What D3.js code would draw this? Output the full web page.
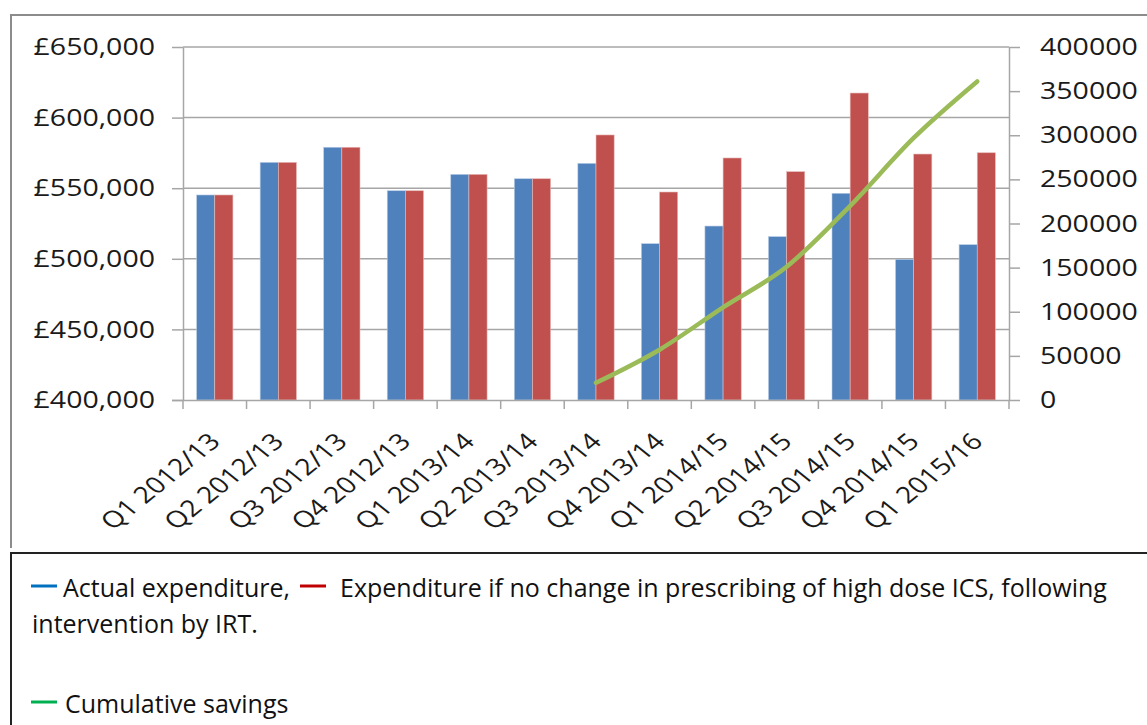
<!DOCTYPE html>
<html>
<head>
<meta charset="utf-8">
<script src="https://cdn.jsdelivr.net/npm/d3@7/dist/d3.min.js"></script>
<style>
  html, body { margin: 0; padding: 0; background: #fff; }
  svg { display: block; }
</style>
</head>
<body>
<svg id="chart" width="1147" height="725"></svg>
<script>
const categories = ["Q1 2012/13","Q2 2012/13","Q3 2012/13","Q4 2012/13","Q1 2013/14","Q2 2013/14","Q3 2013/14","Q4 2013/14","Q1 2014/15","Q2 2014/15","Q3 2014/15","Q4 2014/15","Q1 2015/16"];
const actualExpenditure = [545200, 568300, 579000, 548200, 559800, 556700, 567600, 510700, 523200, 515700, 546400, 499600, 510000];
const noChangeExpenditure = [545200, 568300, 579000, 548200, 559800, 556700, 587700, 547300, 571400, 561700, 617400, 574200, 575100];
const cumulativeSavings = [null, null, null, null, null, null, 19500, 57000, 105000, 151000, 220000, 297000, 361000];
const leftTicks = [400000, 450000, 500000, 550000, 600000, 650000];
const rightTicks = [0, 50000, 100000, 150000, 200000, 250000, 300000, 350000, 400000];
const seriesKeys = ["actual", "noChange"];

const svg = d3.select("#chart");
const FONT = "'Open Sans', 'DejaVu Sans', sans-serif";
const STRETCH = 1.24;
const plot = {left: 183, right: 1009, top: 47, bottom: 400};
const gridColor = "#a6a6a6";

// outer chart border (left + top visible)
svg.append("path")
  .attr("d", "M11,548 V15 H1147")
  .attr("fill", "none").attr("stroke", "#8c8c8c").attr("stroke-width", 2);

const x0 = d3.scaleBand().domain(categories).range([plot.left, plot.right]).paddingInner(0).paddingOuter(0);
const bw = x0.bandwidth();
const x1 = d3.scaleBand().domain(seriesKeys).range([bw * 0.75 / 3.5, bw * 2.75 / 3.5]).padding(0);
const yL = d3.scaleLinear().domain([400000, 650000]).range([plot.bottom, plot.top]);
const yR = d3.scaleLinear().domain([0, 400000]).range([plot.bottom, plot.top]);

// gridlines
svg.append("g").selectAll("line").data(leftTicks.slice(1)).join("line")
  .attr("x1", plot.left).attr("x2", plot.right)
  .attr("y1", d => yL(d)).attr("y2", d => yL(d))
  .attr("stroke", gridColor).attr("stroke-width", 1.5);

// bars
const groups = svg.append("g").selectAll("g").data(categories).join("g")
  .attr("transform", d => `translate(${x0(d)},0)`);
groups.selectAll("rect").data((d, i) => [
    {key: "actual", v: actualExpenditure[i]},
    {key: "noChange", v: noChangeExpenditure[i]}
  ]).join("rect")
  .attr("x", d => x1(d.key))
  .attr("width", x1.bandwidth())
  .attr("y", d => yL(d.v))
  .attr("height", d => yL(400000) - yL(d.v))
  .attr("fill", d => d.key === "actual" ? "#4f81bd" : "#c0504d")
  .attr("stroke", d => d.key === "actual" ? "#b8cce4" : "#e6b9b8")
  .attr("stroke-width", 0.6);

// left axis
const axL = svg.append("g").attr("transform", `translate(${plot.left},0)`)
  .call(d3.axisLeft(yL).tickValues(leftTicks).tickSize(11).tickSizeOuter(0)
    .tickFormat(d => "£" + d3.format(",")(d)));
axL.select(".domain").attr("stroke", gridColor).attr("stroke-width", 1.5);
axL.selectAll(".tick line").attr("stroke", gridColor).attr("stroke-width", 1.5);
axL.selectAll(".tick text")
  .attr("x", null).attr("dy", "0.33em")
  .attr("transform", `translate(-28,0) scale(${STRETCH},1)`)
  .attr("font-family", FONT).attr("font-size", 23).attr("fill", "#1a1a1a");

// right axis
const axR = svg.append("g").attr("transform", `translate(${plot.right},0)`)
  .call(d3.axisRight(yR).tickValues(rightTicks).tickSize(11).tickSizeOuter(0)
    .tickFormat(d3.format("d")));
axR.select(".domain").attr("stroke", gridColor).attr("stroke-width", 1.5);
axR.selectAll(".tick line").attr("stroke", gridColor).attr("stroke-width", 1.5);
axR.selectAll(".tick text")
  .attr("x", null).attr("dy", "0.33em")
  .attr("transform", `translate(31,0) scale(${STRETCH},1)`)
  .attr("font-family", FONT).attr("font-size", 23).attr("fill", "#1a1a1a");

// bottom axis (labels at category centres, ticks at boundaries)
const axB = svg.append("g").attr("transform", `translate(0,${plot.bottom})`)
  .call(d3.axisBottom(x0).tickSize(0).tickSizeOuter(0));
axB.select(".domain").attr("stroke", gridColor).attr("stroke-width", 1.5)
  .attr("d", `M${plot.left - 11},0.5H${plot.right}`);
axB.selectAll(".tick text")
  .attr("y", null).attr("dy", null)
  .attr("text-anchor", "end")
  .attr("transform", `translate(7,43) scale(${STRETCH},1) rotate(-45)`)
  .attr("font-family", FONT).attr("font-size", 23).attr("fill", "#1a1a1a");
const boundaries = categories.map(c => x0(c)).concat([x0.range()[1]]);
axB.append("g").selectAll("line").data(boundaries).join("line")
  .attr("x1", d => d).attr("x2", d => d).attr("y1", 0).attr("y2", 9)
  .attr("stroke", gridColor).attr("stroke-width", 1.5);

// cumulative savings line
const line = d3.line()
  .defined(d => d.v !== null)
  .x(d => x0(d.c) + bw / 2)
  .y(d => yR(d.v))
  .curve(d3.curveMonotoneX);
svg.append("path")
  .datum(categories.map((c, i) => ({c, v: cumulativeSavings[i]})))
  .attr("d", line)
  .attr("fill", "none").attr("stroke", "#9bbb59").attr("stroke-width", 4.5)
  .attr("stroke-linecap", "round").attr("stroke-linejoin", "round");

// legend box
svg.append("path")
  .attr("d", "M11,730 V553 H1150")
  .attr("fill", "none").attr("stroke", "#222").attr("stroke-width", 2);

const legendItems = [
  {color: "#0070c0", x: 31, y: 586},
  {color: "#c00000", x: 300, y: 586},
  {color: "#00b050", x: 31, y: 702}
];
svg.append("g").selectAll("line").data(legendItems).join("line")
  .attr("x1", d => d.x).attr("x2", d => d.x + 26)
  .attr("y1", d => d.y).attr("y2", d => d.y)
  .attr("stroke", d => d.color).attr("stroke-width", 3);

const legendTexts = [
  {t: "Actual expenditure,", x: 63, y: 597},
  {t: "Expenditure if no change in prescribing of high dose ICS, following", x: 340, y: 597},
  {t: "intervention by IRT.", x: 32, y: 633},
  {t: "Cumulative savings", x: 65, y: 713}
];
svg.append("g").selectAll("text").data(legendTexts).join("text")
  .attr("x", d => d.x).attr("y", d => d.y)
  .attr("font-family", FONT).attr("font-size", 25).attr("fill", "#111")
  .text(d => d.t);
</script>
</body>
</html>
